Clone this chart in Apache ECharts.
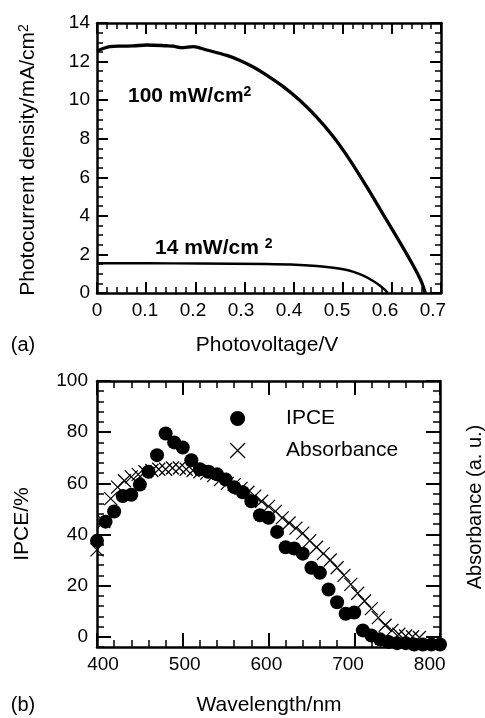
<!DOCTYPE html>
<html><head><meta charset="utf-8">
<script src="https://cdn.jsdelivr.net/npm/echarts@6/dist/echarts.min.js"></script>
<style>html,body{margin:0;padding:0;background:#fff;}#c{width:485px;height:718px;}</style>
</head><body><div id="c"></div>
<script>
// ---- (a) J-V curves ----
const voltage100 = [0, 0.026, 0.05, 0.074, 0.101, 0.142, 0.155, 0.172, 0.196, 0.223, 0.264, 0.291, 0.318, 0.345, 0.379, 0.413, 0.447, 0.481, 0.515, 0.549, 0.583, 0.617, 0.644, 0.659, 0.668];
const current100 = [12.55, 12.77, 12.8, 12.81, 12.86, 12.82, 12.8, 12.72, 12.78, 12.6, 12.32, 12.06, 11.72, 11.3, 10.7, 9.98, 9.12, 8.1, 6.88, 5.5, 4.05, 2.6, 1.4, 0.65, 0.0];
const voltage14 = [0, 0.1, 0.209, 0.345, 0.413, 0.447, 0.481, 0.501, 0.522, 0.542, 0.562, 0.576, 0.586, 0.592];
const current14 = [1.54, 1.54, 1.53, 1.50, 1.45, 1.40, 1.31, 1.23, 1.10, 0.90, 0.62, 0.38, 0.16, 0.0];
const voltageTicks = [0, 0.1, 0.2, 0.3, 0.4, 0.5, 0.6, 0.7];
const currentTicks = [0, 2, 4, 6, 8, 10, 12, 14];

// ---- (b) IPCE / absorbance spectra ----
const wavelengthIPCE = [400,410,420,430,440,450,460,470,480,490,500,510,520,530,540,550,560,570,580,590,600,610,620,630,640,650,660,670,680,690,700,710,720,730,740,750,760,770,780,790,800];
const ipce = [37.5,45,49,55,55.5,59.5,64.5,71,79.5,76,74,69,65.5,64.5,63.5,61.5,58.5,56.5,53,47.5,46.5,41,35,34.5,32.5,27,25,18.5,13.5,9,9.5,2.5,0.5,-1,-2,-2.5,-2.5,-3,-3,-3,-3];
const wavelengthAbs = [400,408,416,424,432,440,448,456,464,472,480,488,496,504,512,520,528,536,544,552,560,568,576,584,592,600,608,616,624,632,640,648,656,664,672,680,688,696,704,712,720,728,736,744,752,760,768,776];
const absorbance = [34,45,54,58.5,61,62.5,63.5,64.5,65,65.5,65.5,66,66,65.5,65,64.5,64,63,61.5,60,59.5,58,56.5,55,53,51,49,46.5,44.5,42.5,40.5,37.5,35,32.5,30,27,24,20.5,17,14,11,7.5,4.5,2.5,1,0.3,0,-0.3];
const wavelengthTicks = [400, 500, 600, 700, 800];
const ipceTicks = [0, 20, 40, 60, 80, 100];

const FONT = '"Liberation Sans", Arial, Helvetica, sans-serif';
const K = '#000';
const zip = (a, b) => a.map((v, i) => [v, b[i]]);

function frame(extra) {
  return Object.assign({
    type: 'value',
    axisLine: { show: true, onZero: false, lineStyle: { color: K, width: 2.5 } },
    splitLine: { show: false },
    minorSplitLine: { show: false },
    axisLabel: { show: false }
  }, extra);
}
const lbl = (extra) => Object.assign({ show: true, color: K, fontSize: 19, fontFamily: FONT }, extra);

const chart = echarts.init(document.getElementById('c'));
chart.setOption({
  animation: false,
  backgroundColor: '#fff',
  grid: [
    { left: 97, top: 23, width: 344, height: 270, outerBoundsMode: 'none' },
    { left: 97, top: 381, width: 343, height: 266, outerBoundsMode: 'none' }
  ],
  xAxis: [
    frame({ gridIndex: 0, position: 'bottom', min: 0, max: 0.7, interval: 0.1,
      axisTick: { show: true, inside: true, length: 11, lineStyle: { color: K, width: 2 } },
      minorTick: { show: true, splitNumber: 5, length: 6, lineStyle: { color: K, width: 1.5 } } }),
    frame({ gridIndex: 0, position: 'top', min: 0, max: 0.7, interval: 0.1,
      axisTick: { show: true, inside: true, length: 11, lineStyle: { color: K, width: 2 } },
      minorTick: { show: true, splitNumber: 5, length: 6, lineStyle: { color: K, width: 1.5 } } }),
    { type: 'value', gridIndex: 0, position: 'bottom', min: 0, max: 0.7167,
      axisLine: { show: false, onZero: false }, axisTick: { show: false }, splitLine: { show: false },
      axisLabel: lbl({ margin: 8, customValues: voltageTicks, formatter: v => v === 0 ? '0' : v.toFixed(1) }) },
    frame({ gridIndex: 1, position: 'bottom', min: 400, max: 800, interval: 100,
      axisTick: { show: true, inside: true, length: 14, lineStyle: { color: K, width: 2 } },
      minorTick: { show: true, splitNumber: 5, length: 7, lineStyle: { color: K, width: 1.5 } } }),
    frame({ gridIndex: 1, position: 'top', min: 400, max: 800, interval: 100,
      axisTick: { show: true, inside: true, length: 14, lineStyle: { color: K, width: 2 } },
      minorTick: { show: true, splitNumber: 5, length: 7, lineStyle: { color: K, width: 1.5 } } }),
    { type: 'value', gridIndex: 1, position: 'bottom', min: 392.66, max: 812.6,
      axisLine: { show: false, onZero: false }, axisTick: { show: false }, splitLine: { show: false },
      axisLabel: lbl({ margin: 8, customValues: wavelengthTicks }) }
  ],
  yAxis: [
    frame({ gridIndex: 0, position: 'left', min: 0, max: 14, interval: 2,
      axisTick: { show: true, inside: true, length: 11, lineStyle: { color: K, width: 2 } },
      minorTick: { show: true, splitNumber: 4, length: 6, lineStyle: { color: K, width: 1.5 } },
      axisLabel: lbl({ margin: 7, customValues: currentTicks }) }),
    frame({ gridIndex: 0, position: 'right', min: 0, max: 14, interval: 2,
      axisTick: { show: true, inside: true, length: 11, lineStyle: { color: K, width: 2 } },
      minorTick: { show: true, splitNumber: 4, length: 6, lineStyle: { color: K, width: 1.5 } } }),
    frame({ gridIndex: 1, position: 'left', min: -4, max: 100,
      axisTick: { show: true, inside: true, length: 14, customValues: ipceTicks, lineStyle: { color: K, width: 2 } },
      axisLabel: lbl({ margin: 9, customValues: ipceTicks }) }),
    { type: 'value', gridIndex: 1, position: 'left', min: -4, max: 100, interval: 4,
      axisLine: { show: false, onZero: false }, splitLine: { show: false }, axisLabel: { show: false },
      axisTick: { show: true, inside: true, length: 7, lineStyle: { color: K, width: 1.5 } } },
    frame({ gridIndex: 1, position: 'right', min: -4, max: 100,
      axisTick: { show: true, inside: true, length: 14, customValues: ipceTicks, lineStyle: { color: K, width: 2 } } }),
    { type: 'value', gridIndex: 1, position: 'right', min: -4, max: 100, interval: 4,
      axisLine: { show: false, onZero: false }, splitLine: { show: false }, axisLabel: { show: false },
      axisTick: { show: true, inside: true, length: 7, lineStyle: { color: K, width: 1.5 } } }
  ],
  legend: {
    data: [{ name: 'IPCE', itemStyle: { opacity: 1 } }, { name: 'Absorbance', itemStyle: { borderWidth: 1.2, borderColor: K, opacity: 1 } }],
    orient: 'vertical', left: 224.5, top: 403, itemWidth: 15, itemHeight: 15, itemGap: 11,
    textStyle: { color: K, fontSize: 21, fontFamily: FONT, lineHeight: 20, padding: [0, 0, 0, 36] },
    selectedMode: false
  },
  series: [
    { name: '100 mW/cm2', type: 'line', xAxisIndex: 0, yAxisIndex: 0, data: zip(voltage100, current100),
      showSymbol: false, smooth: 0.3, lineStyle: { color: K, width: 3.3 } },
    { name: '14 mW/cm2', type: 'line', xAxisIndex: 0, yAxisIndex: 0, data: zip(voltage14, current14),
      showSymbol: false, smooth: 0.3, lineStyle: { color: K, width: 2.4 } },
    { name: 'Absorbance', type: 'scatter', xAxisIndex: 3, yAxisIndex: 2, data: zip(wavelengthAbs, absorbance),
      symbol: 'path://M0,0L10,10M10,0L0,10', symbolSize: 13, clip: false,
      itemStyle: { color: K, borderColor: K, borderWidth: 1.2, opacity: 1 } },
    { name: 'IPCE', type: 'scatter', xAxisIndex: 3, yAxisIndex: 2, data: zip(wavelengthIPCE, ipce),
      symbol: 'circle', symbolSize: 14, clip: false, itemStyle: { color: K, opacity: 1 } }
  ],
  graphic: [
    { type: 'text', x: 23, y: 345, style: { text: '(a)', fontSize: 20, fontFamily: FONT, fill: K, align: 'center', verticalAlign: 'middle' } },
    { type: 'text', x: 267, y: 345, style: { text: 'Photovoltage/V', fontSize: 21, fontFamily: FONT, fill: K, align: 'center', verticalAlign: 'middle' } },
    { type: 'text', x: 23, y: 705, style: { text: '(b)', fontSize: 20, fontFamily: FONT, fill: K, align: 'center', verticalAlign: 'middle' } },
    { type: 'text', x: 269, y: 705, style: { text: 'Wavelength/nm', fontSize: 21, fontFamily: FONT, fill: K, align: 'center', verticalAlign: 'middle' } },
    { type: 'text', x: 28, y: 160, rotation: Math.PI / 2,
      style: { text: 'Photocurrent density/mA/cm{sup|2}', fontSize: 21, fontFamily: FONT, fill: K, align: 'center', verticalAlign: 'middle',
        rich: { sup: { fontSize: 14, fontFamily: FONT, fill: K, verticalAlign: 'top' } } } },
    { type: 'text', x: 22, y: 524, rotation: Math.PI / 2,
      style: { text: 'IPCE/%', fontSize: 21, fontFamily: FONT, fill: K, align: 'center', verticalAlign: 'middle' } },
    { type: 'text', x: 475, y: 507, rotation: Math.PI / 2,
      style: { text: 'Absorbance (a. u.)', fontSize: 20, fontFamily: FONT, fill: K, align: 'center', verticalAlign: 'middle' } },
    { type: 'text', x: 128, y: 96,
      style: { text: '100 mW/cm{sup|2}', fontSize: 21, fontWeight: 'bold', fontFamily: FONT, fill: K, align: 'left', verticalAlign: 'middle',
        rich: { sup: { fontSize: 14, fontWeight: 'bold', fontFamily: FONT, fill: K, verticalAlign: 'top' } } } },
    { type: 'text', x: 155, y: 248,
      style: { text: '14 mW/cm {sup|2}', fontSize: 21, fontWeight: 'bold', fontFamily: FONT, fill: K, align: 'left', verticalAlign: 'middle',
        rich: { sup: { fontSize: 14, fontWeight: 'bold', fontFamily: FONT, fill: K, verticalAlign: 'top' } } } }
  ]
});
</script>
</body></html>
